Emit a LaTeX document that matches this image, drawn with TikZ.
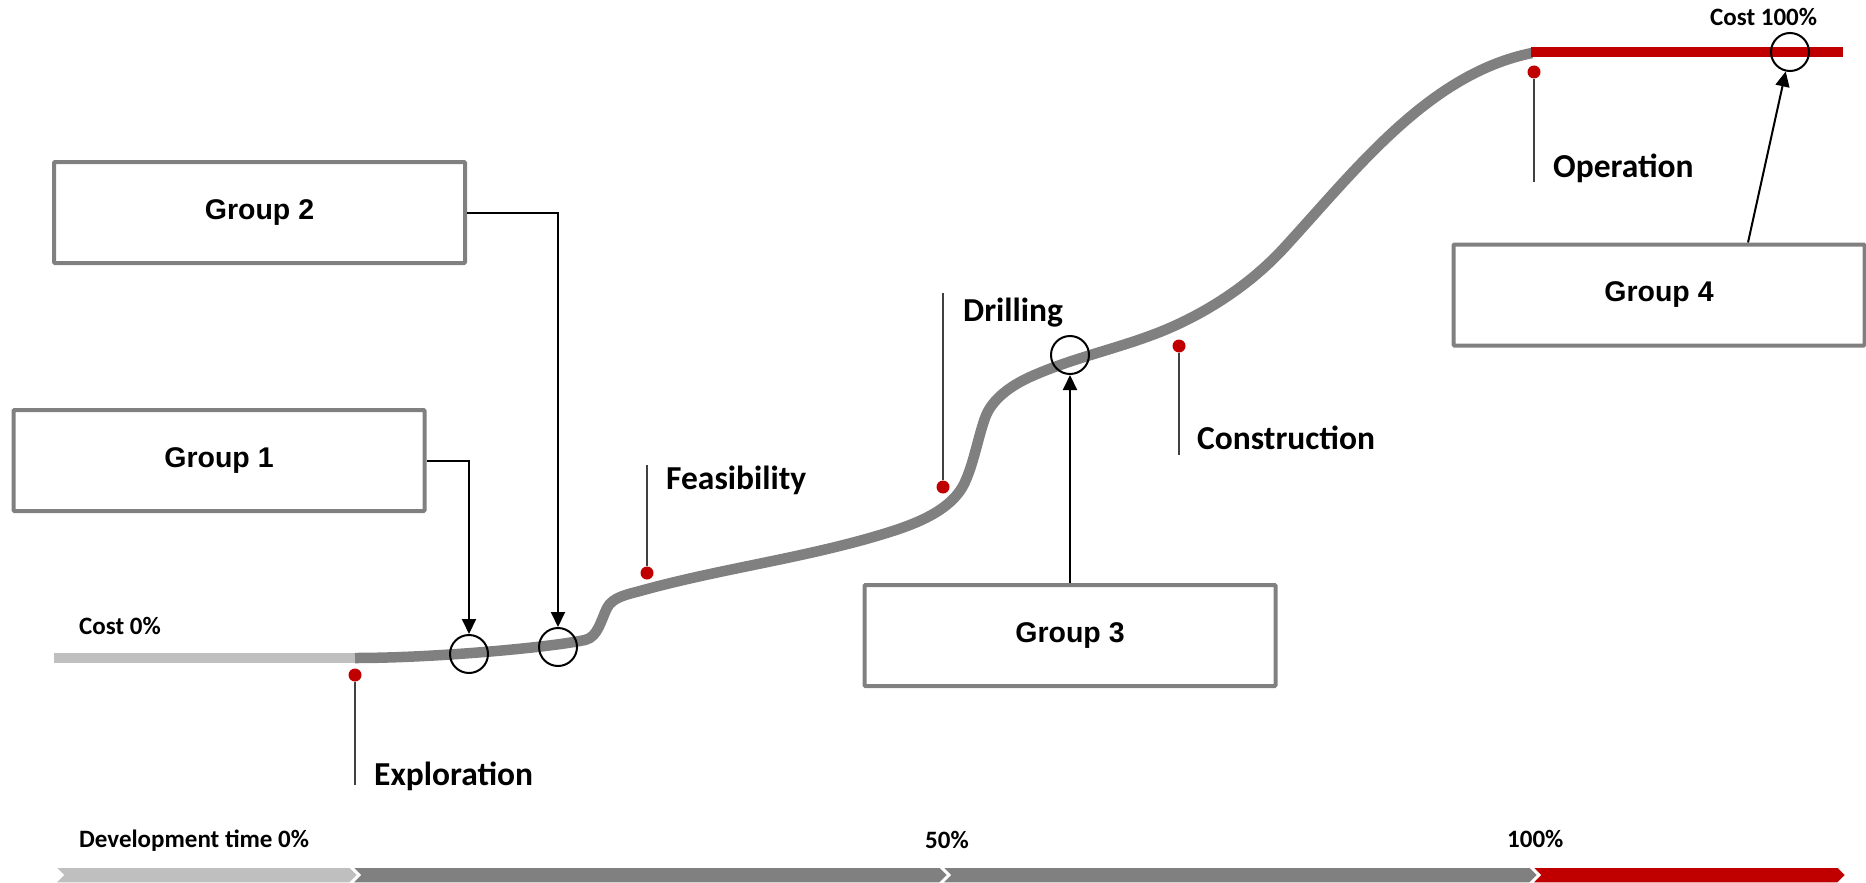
\documentclass[tikz,border=0pt]{standalone}
\usepackage{fontspec}
\setmainfont{Carlito}
\newfontfamily\grpfont{Liberation Sans}
\usetikzlibrary{arrows.meta}
\definecolor{cgray}{HTML}{808080}
\definecolor{clight}{HTML}{BFBFBF}
\definecolor{cred}{HTML}{C00000}
\begin{document}
\begin{tikzpicture}[x=1pt,y=-1pt,
  grpbox/.style={draw=cgray, line width=4pt, rounded corners=1pt, minimum width=411pt, minimum height=101pt, inner sep=0pt, font=\grpfont\bfseries\fontsize{28.5}{34}\selectfont},
  ring/.style={circle, draw=black, line width=2pt, minimum size=38pt, inner sep=0pt},
  reddot/.style={circle, fill=cred, minimum size=13pt, inner sep=0pt},
  phase/.style={anchor=base west, inner sep=0pt, font=\bfseries\fontsize{33.5}{40}\selectfont},
  small/.style={anchor=base west, inner sep=0pt, font=\bfseries\fontsize{25}{30}\selectfont},
  tick/.style={line width=1.3pt, draw=black!75},
  conn/.style={line width=2pt, -{Triangle[length=15pt,width=14pt]}},
  chev/.style={draw=white, line width=1.5pt}
]
\useasboundingbox (0,0) rectangle (1866,883);

% cost curve
\draw[clight, line width=10.5pt] (54,658) -- (356,658);
\draw[cgray, line width=10.5pt] (355,658)
  .. controls (432,658) and (546,648) .. (585,640)
  .. controls (598,637) and (601,620) .. (607,608)
  .. controls (612.5,597) and (628,594.3) .. (640,591)
  .. controls (719,569) and (801.5,558.5) .. (880,535)
  .. controls (911.6,525.5) and (951.5,512) .. (965,482)
  .. controls (974,462) and (977.7,438.8) .. (985,418)
  .. controls (991.6,399) and (1011.8,385.2) .. (1030,377)
  .. controls (1072,358) and (1117,349) .. (1160,332)
  .. controls (1205.5,313.8) and (1249.7,285) .. (1283,249)
  .. controls (1355,171) and (1428,74) .. (1532,53);
\draw[cred, line width=10.5pt] (1531,52) -- (1843,52);

% timeline chevrons
\fill[clight, chev] (55,867) -- (350,867) -- (358,875) -- (350,883) -- (55,883) -- (63,875) -- cycle;
\fill[cgray, chev] (352,867) -- (940,867) -- (948,875) -- (940,883) -- (352,883) -- (360,875) -- cycle;
\fill[cgray, chev] (942,867) -- (1530,867) -- (1538,875) -- (1530,883) -- (942,883) -- (950,875) -- cycle;
\fill[cred, chev] (1532,867) -- (1838,867) -- (1846,875) -- (1838,883) -- (1532,883) -- (1540,875) -- cycle;

% small labels
\node[small] (cost0) at (79,634) {Cost 0\%};
\node[small] (cost100) at (1710,26) {Cost 100\%};
\node[small] (dev0) at (79,847) {Development time 0\%};
\node[small, anchor=base] (p50) at (947,848) {50\%};
\node[small] (p100) at (1507,847) {100\%};

% phase markers
\coordinate (t1) at (355,785);
\coordinate (t2) at (647,465);
\coordinate (t3) at (943,293);
\coordinate (t4) at (1179,455);
\coordinate (t5) at (1534,182);
\node[reddot] (d1) at (355,675) {};
\node[reddot] (d2) at (647,573) {};
\node[reddot] (d3) at (943,487) {};
\node[reddot] (d4) at (1179,346) {};
\node[reddot] (d5) at (1534,72) {};
\draw[tick] (d1) -- (t1);
\draw[tick] (d2) -- (t2);
\draw[tick] (d3) -- (t3);
\draw[tick] (d4) -- (t4);
\draw[tick] (d5) -- (t5);
\node[phase] (l1) at (374,785) {Exploration};
\node[phase] (l2) at (666,489) {Feasibility};
\node[phase] (l3) at (963,321) {Drilling};
\node[phase] (l4) at (1197,449) {Construction};
\node[phase] (l5) at (1553,177) {Operation};

% rings
\node[ring] (c1) at (469,654) {};
\node[ring] (c2) at (558,647) {};
\node[ring] (c3) at (1070,355) {};
\node[ring] (c4) at (1790,52) {};

% group boxes
\node[grpbox] (g1) at (219,460.5) {Group 1};
\node[grpbox] (g2) at (259.5,212.5) {Group 2};
\node[grpbox] (g3) at (1070,635.5) {Group 3};
\node[grpbox] (g4) at (1659,295) {Group 4};

% connectors
\draw[conn] (g1.east) -| (c1.north);
\draw[conn] (g2.east) -| (c2.north);
\draw[conn] (g3.north) -- (c3.south);
\draw[conn] ([xshift=89pt]g4.north) -- (c4);
\end{tikzpicture}
\end{document}
